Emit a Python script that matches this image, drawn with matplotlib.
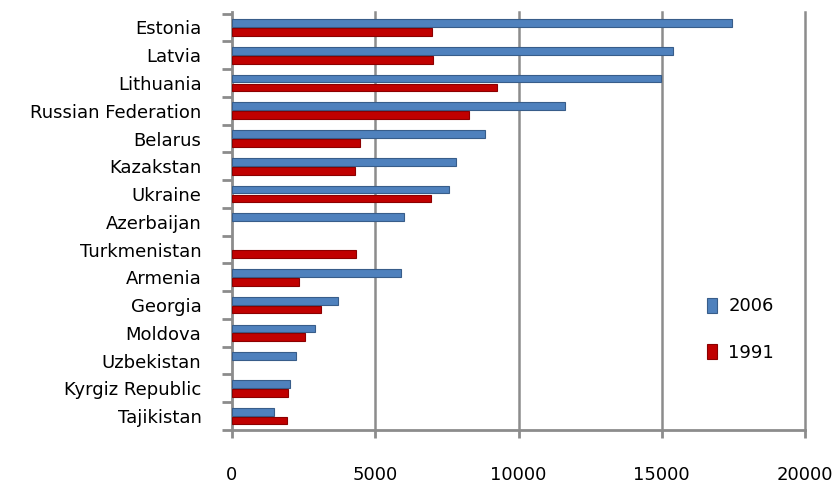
import matplotlib
matplotlib.use("Agg")
import matplotlib.pyplot as plt
import numpy as np

countries = ["Estonia", "Latvia", "Lithuania", "Russian Federation", "Belarus",
             "Kazakstan", "Ukraine", "Azerbaijan", "Turkmenistan", "Armenia",
             "Georgia", "Moldova", "Uzbekistan", "Kyrgiz Republic", "Tajikistan"]
# nan = no data for that year
gdp_2006 = [17450, 15400, 14980, 11620, 8830, 7820, 7570, 5990, np.nan, 5900,
            3700, 2900, 2240, 2030, 1460]
gdp_1991 = [6980, 7000, 9250, 8260, 4460, 4310, 6960, np.nan, 4330, 2340,
            3120, 2560, np.nan, 1940, 1930]
xticks = [0, 5000, 10000, 15000, 20000]

BLUE = "#4F81BD"; BLUE_EDGE = "#385D8A"
RED = "#C00000"; RED_EDGE = "#8B0000"
GRID = "#8C8C8C"

plt.rcParams.update({"font.family": "DejaVu Sans", "font.size": 12})

fig = plt.figure(figsize=(8.39, 4.83), dpi=100)
ax = fig.add_axes([0.2765, 0.1097, 0.683, 0.865])

y = np.arange(len(countries))
h = 0.28
ax.barh(y - 0.16, gdp_2006, height=h, color=BLUE, edgecolor=BLUE_EDGE,
        linewidth=0.8, label="2006", zorder=3)
ax.barh(y + 0.16, gdp_1991, height=h, color=RED, edgecolor=RED_EDGE,
        linewidth=0.8, label="1991", zorder=3)

ax.set_xlim(0, 20000)
ax.set_ylim(len(countries) - 0.5, -0.55)
ax.set_xticks(xticks)
ax.set_yticks(y)
ax.set_yticklabels(countries, fontsize=13)
ax.set_yticks(np.arange(-0.5, len(countries), 1), minor=True)
ax.tick_params(axis="y", which="major", length=0, pad=22)
ax.tick_params(axis="y", which="minor", length=7, width=2, color=GRID)
ax.tick_params(axis="x", length=6, width=2, color=GRID, pad=20, labelsize=13)

# vertical gridlines, unclipped so the last one at 20000 is full width
for xv in xticks[1:]:
    ax.axvline(xv, color=GRID, linewidth=1.8, zorder=0, clip_on=False)
for s in ("top", "right"):
    ax.spines[s].set_visible(False)
for s in ("left", "bottom"):
    ax.spines[s].set_color(GRID)
    ax.spines[s].set_linewidth(2)

ax.legend(loc="center left", bbox_to_anchor=(0.8, 0.24), frameon=False,
          fontsize=13, handlelength=0.6, handleheight=0.9, labelspacing=1.6,
          handletextpad=0.6)

fig.savefig("out.png", dpi=100)
